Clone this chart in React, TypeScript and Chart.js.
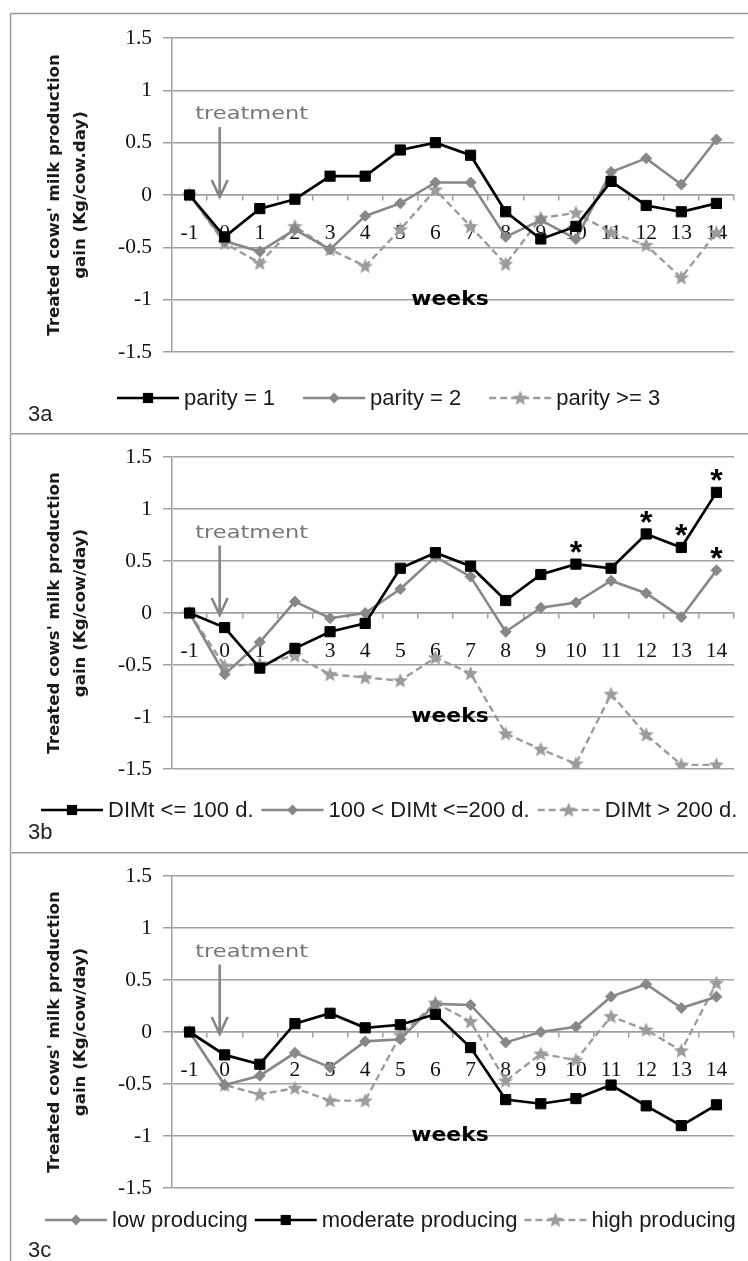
import React, { useEffect, useRef } from 'react';
import { Chart, registerables } from 'chart.js';

Chart.register(...registerables);

// ---------- data ----------
const WEEKS = ['-1', '0', '1', '2', '3', '4', '5', '6', '7', '8', '9', '10', '11', '12', '13', '14'];
const Y_TICKS = [-1.5, -1, -0.5, 0, 0.5, 1, 1.5];
const Y_TICK_LABELS = ['-1.5', '-1', '-0.5', '0', '0.5', '1', '1.5'];

// 3a – parity
const PARITY_1 = [0, -0.4, -0.13, -0.04, 0.18, 0.18, 0.43, 0.5, 0.38, -0.16, -0.42, -0.3, 0.13, -0.1, -0.16, -0.08];
const PARITY_2 = [0, -0.44, -0.54, -0.33, -0.52, -0.2, -0.08, 0.12, 0.12, -0.4, -0.24, -0.42, 0.22, 0.35, 0.1, 0.53];
const PARITY_3 = [0, -0.46, -0.65, -0.3, -0.52, -0.68, -0.33, 0.05, -0.3, -0.66, -0.22, -0.17, -0.36, -0.48, -0.79, -0.36];

// 3b – DIM at treatment
const DIM_100 = [0, -0.14, -0.53, -0.34, -0.18, -0.1, 0.43, 0.58, 0.45, 0.12, 0.37, 0.47, 0.43, 0.76, 0.63, 1.16];
const DIM_200 = [0, -0.59, -0.28, 0.11, -0.05, 0, 0.23, 0.54, 0.35, -0.18, 0.05, 0.1, 0.31, 0.19, -0.04, 0.41];
const DIM_OVER = [0, -0.51, -0.49, -0.41, -0.59, -0.62, -0.65, -0.43, -0.58, -1.16, -1.31, -1.45, -0.78, -1.17, -1.46, -1.46];
const STARS_DIM_100 = ['10', '12', '13', '14'];
const STARS_DIM_200 = ['14'];

// 3c – production level
const LOW_PROD = [0, -0.51, -0.42, -0.2, -0.34, -0.09, -0.07, 0.27, 0.26, -0.1, 0, 0.05, 0.34, 0.46, 0.23, 0.34];
const MOD_PROD = [0, -0.22, -0.31, 0.08, 0.18, 0.04, 0.07, 0.17, -0.15, -0.65, -0.69, -0.64, -0.51, -0.71, -0.9, -0.7];
const HIGH_PROD = [0, -0.51, -0.6, -0.54, -0.66, -0.66, -0.03, 0.28, 0.1, -0.47, -0.21, -0.27, 0.15, 0.02, -0.18, 0.47];

// ---------- styles ----------
const GRID = '#a0a0a0';
const BLACK = '#000000';
const GRAY = '#888888';
const LIGHT = '#9c9c9c';
const SANS = "'Liberation Sans', Arial, sans-serif";
const VERD = "'DejaVu Sans', Verdana, sans-serif";
const SERIF = "'Liberation Serif', 'Times New Roman', serif";

function makeStar(color: string): HTMLCanvasElement {
  const c = document.createElement('canvas');
  c.width = 17;
  c.height = 17;
  const g = c.getContext('2d')!;
  g.fillStyle = color;
  g.beginPath();
  const cx = 8.5, cy = 9, R = 8, r = 3.6;
  for (let i = 0; i < 10; i++) {
    const a = -Math.PI / 2 + (i * Math.PI) / 5;
    const rad = i % 2 === 0 ? R : r;
    const px = cx + rad * Math.cos(a);
    const py = cy + rad * Math.sin(a);
    if (i === 0) g.moveTo(px, py);
    else g.lineTo(px, py);
  }
  g.closePath();
  g.fill();
  return c;
}

type Kind = 'black' | 'gray' | 'dashed';
type Series = { label: string; data: number[]; kind: Kind; stars?: string[] };
type Panel = {
  id: string;
  top: number;
  height: number;
  padTop: number;
  padBottom: number;
  titleLine2: string;
  series: Series[];
  legendX: number;
  legendY: number;
  legendGap: number;
  tagY: number;
};

const PANELS: Panel[] = [
  {
    id: '3a', top: 0, height: 433, padTop: 38, padBottom: 81,
    titleLine2: 'gain (Kg/cow.day)',
    series: [
      { label: 'parity = 1', data: PARITY_1, kind: 'black' },
      { label: 'parity = 2', data: PARITY_2, kind: 'gray' },
      { label: 'parity >= 3', data: PARITY_3, kind: 'dashed' },
    ],
    legendX: 117, legendY: 398, legendGap: 28, tagY: 415,
  },
  {
    id: '3b', top: 433, height: 419, padTop: 24, padBottom: 83,
    titleLine2: 'gain (Kg/cow/day)',
    series: [
      { label: 'DIMt <= 100 d.', data: DIM_100, kind: 'black', stars: STARS_DIM_100 },
      { label: '100 < DIMt <=200 d.', data: DIM_200, kind: 'gray', stars: STARS_DIM_200 },
      { label: 'DIMt > 200 d.', data: DIM_OVER, kind: 'dashed' },
    ],
    legendX: 41, legendY: 377, legendGap: 8, tagY: 400,
  },
  {
    id: '3c', top: 852, height: 409, padTop: 24, padBottom: 73,
    titleLine2: 'gain (Kg/cow/day)',
    series: [
      { label: 'low producing', data: LOW_PROD, kind: 'gray' },
      { label: 'moderate producing', data: MOD_PROD, kind: 'black' },
      { label: 'high producing', data: HIGH_PROD, kind: 'dashed' },
    ],
    legendX: 45, legendY: 368, legendGap: 7, tagY: 399,
  },
];

function datasetFor(s: Series, star: HTMLCanvasElement) {
  if (s.kind === 'black') {
    return {
      label: s.label, data: s.data, order: 0,
      borderColor: BLACK, backgroundColor: BLACK, borderWidth: 2.7,
      pointStyle: 'rect', pointRadius: 7.2, pointBorderWidth: 1,
      pointBackgroundColor: BLACK, pointBorderColor: BLACK,
    };
  }
  if (s.kind === 'gray') {
    return {
      label: s.label, data: s.data, order: 1,
      borderColor: GRAY, backgroundColor: GRAY, borderWidth: 2.6,
      pointStyle: 'rectRot', pointRadius: 5.5, pointBorderWidth: 1,
      pointBackgroundColor: GRAY, pointBorderColor: GRAY,
    };
  }
  return {
    label: s.label, data: s.data, order: 2,
    borderColor: LIGHT, backgroundColor: LIGHT, borderWidth: 2.4, borderDash: [7, 4],
    pointStyle: star, pointRadius: 8,
    pointBackgroundColor: LIGHT, pointBorderColor: LIGHT,
  };
}

function drawMarker(ctx: CanvasRenderingContext2D, ds: any, x: number, y: number) {
  const st = ds.pointStyle;
  ctx.save();
  ctx.setLineDash([]);
  if (st === 'rect') {
    const h = Math.SQRT1_2 * ds.pointRadius;
    ctx.fillStyle = ds.pointBackgroundColor;
    ctx.fillRect(x - h, y - h, 2 * h, 2 * h);
  } else if (st === 'rectRot') {
    const r = ds.pointRadius;
    ctx.fillStyle = ds.pointBackgroundColor;
    ctx.beginPath();
    ctx.moveTo(x, y - r);
    ctx.lineTo(x + r, y);
    ctx.lineTo(x, y + r);
    ctx.lineTo(x - r, y);
    ctx.closePath();
    ctx.fill();
  } else if (st && st.width) {
    ctx.drawImage(st, x - st.width / 2, y - st.height / 2);
  }
  ctx.restore();
}

function makeOverlay(panel: Panel) {
  return {
    id: 'overlay' + panel.id,
    beforeDraw(chart: any) {
      const ctx: CanvasRenderingContext2D = chart.ctx;
      const W = chart.width, H = chart.height;
      ctx.save();
      ctx.strokeStyle = '#9a9a9a';
      ctx.lineWidth = 1.5;
      const ty = panel.id === '3a' ? 13.5 : 0.75;
      ctx.beginPath();
      ctx.moveTo(10.5, ty);
      ctx.lineTo(W, ty);
      ctx.moveTo(10.5, ty);
      ctx.lineTo(10.5, H);
      ctx.stroke();
      ctx.restore();
    },
    afterDraw(chart: any) {
      const ctx: CanvasRenderingContext2D = chart.ctx;
      const xs = chart.scales.x, ys = chart.scales.y;
      const i0 = WEEKS.indexOf('0');
      ctx.save();

      // treatment arrow
      const ax = xs.getPixelForValue(i0) - 5;
      const tip = ys.getPixelForValue(0) + 2;
      ctx.strokeStyle = '#858585';
      ctx.lineWidth = 2.6;
      ctx.beginPath();
      ctx.moveTo(ax, ys.getPixelForValue(0.65));
      ctx.lineTo(ax, tip);
      ctx.moveTo(ax - 8, tip - 17);
      ctx.lineTo(ax, tip);
      ctx.lineTo(ax + 8, tip - 17);
      ctx.stroke();

      // treatment label
      ctx.save();
      ctx.translate(xs.getPixelForValue(i0) + 27, ys.getPixelForValue(0.77));
      ctx.scale(1.25, 1);
      ctx.font = `18px ${VERD}`;
      ctx.fillStyle = '#777777';
      ctx.textAlign = 'center';
      ctx.textBaseline = 'middle';
      ctx.fillText('treatment', 0, 0);
      ctx.restore();

      // weeks label
      ctx.save();
      const wx = (xs.getPixelForValue(WEEKS.indexOf('6')) + xs.getPixelForValue(WEEKS.indexOf('7'))) / 2 - 3;
      ctx.translate(wx, ys.getPixelForValue(-1.0));
      ctx.scale(1.15, 1);
      ctx.font = `bold 19px ${VERD}`;
      ctx.fillStyle = '#000';
      ctx.textAlign = 'center';
      ctx.textBaseline = 'middle';
      ctx.fillText('weeks', 0, 0);
      ctx.restore();

      // significance asterisks
      ctx.font = `bold 32px ${SANS}`;
      ctx.fillStyle = '#000';
      ctx.textAlign = 'center';
      ctx.textBaseline = 'middle';
      panel.series.forEach((s, di) => {
        if (!s.stars) return;
        const meta = chart.getDatasetMeta(di);
        s.stars.forEach((w) => {
          const el = meta.data[WEEKS.indexOf(w)];
          if (el) ctx.fillText('*', el.x, el.y - 10);
        });
      });

      // legend
      ctx.font = `22px ${SANS}`;
      let lx = panel.legendX;
      const ly = panel.legendY;
      chart.data.datasets.forEach((ds: any) => {
        ctx.save();
        ctx.strokeStyle = ds.borderColor;
        ctx.lineWidth = ds.borderWidth;
        ctx.setLineDash(ds.borderDash || []);
        ctx.beginPath();
        ctx.moveTo(lx, ly);
        ctx.lineTo(lx + 62, ly);
        ctx.stroke();
        ctx.restore();
        drawMarker(ctx, ds, lx + 31, ly);
        ctx.fillStyle = '#1a1a1a';
        ctx.textAlign = 'left';
        ctx.textBaseline = 'middle';
        ctx.fillText(ds.label, lx + 67, ly + 1);
        lx += 67 + ctx.measureText(ds.label).width + panel.legendGap;
      });

      // panel tag
      ctx.font = `22px ${SANS}`;
      ctx.fillStyle = '#222';
      ctx.textAlign = 'left';
      ctx.textBaseline = 'middle';
      ctx.fillText(panel.id, 28, panel.tagY);

      ctx.restore();
    },
  };
}

function PanelChart({ panel }: { panel: Panel }) {
  const ref = useRef<HTMLCanvasElement | null>(null);
  useEffect(() => {
    if (!ref.current) return;
    const star = makeStar(LIGHT);
    const chart = new Chart(ref.current, {
      type: 'line',
      data: {
        labels: WEEKS,
        datasets: panel.series.map((s) => datasetFor(s, star)) as any,
      },
      options: {
        animation: false,
        responsive: false,
        maintainAspectRatio: false,
        devicePixelRatio: 1,
        layout: { padding: { left: 38, right: 14, top: panel.padTop, bottom: panel.padBottom } },
        plugins: { legend: { display: false }, tooltip: { enabled: false } },
        elements: { line: { tension: 0 } },
        scales: {
          x: {
            type: 'category',
            position: { y: 0 } as any,
            offset: true,
            grid: {
              display: true, drawOnChartArea: false, drawTicks: true, tickLength: 5,
              offset: true, color: GRID, lineWidth: 1.5,
            },
            border: { display: true, color: GRID, width: 1.5 },
            ticks: {
              autoSkip: false, maxRotation: 0, padding: 20, color: '#111',
              font: { family: SERIF, size: 21.5 },
            },
            afterFit: (s: any) => { s.height = 0; },
          },
          y: {
            type: 'linear',
            position: 'left',
            min: -1.5,
            max: 1.5,
            afterBuildTicks: (s: any) => { s.ticks = Y_TICKS.map((v) => ({ value: v })); },
            afterFit: (s: any) => { s.width = 134; },
            grid: { color: GRID, lineWidth: 1.5, tickLength: 9, drawTicks: true },
            border: { display: true, color: GRID, width: 1.5 },
            ticks: {
              padding: 11, color: '#111',
              font: { family: SERIF, size: 21.5 },
              callback: (v: any) => {
                const k = Y_TICKS.indexOf(Number(v));
                return k >= 0 ? Y_TICK_LABELS[k] : '';
              },
            },
            title: {
              display: true,
              text: ["Treated cows' milk production", panel.titleLine2],
              color: '#1a1a1a',
              font: { family: VERD, size: 16.6, weight: 'bold', lineHeight: 1.6 },
              padding: { top: 3, bottom: 0 },
            },
          },
        },
      },
      plugins: [makeOverlay(panel)],
    });
    return () => chart.destroy();
  }, [panel]);
  return (
    <canvas
      ref={ref}
      width={748}
      height={panel.height}
      style={{ position: 'absolute', left: 0, top: panel.top, width: 748, height: panel.height, display: 'block' }}
    />
  );
}

export default function App() {
  return (
    <div style={{ position: 'absolute', left: 0, top: 0, width: 748, height: 1261, background: '#fff', overflow: 'hidden' }}>
      {PANELS.map((p) => (
        <PanelChart key={p.id} panel={p} />
      ))}
    </div>
  );
}
